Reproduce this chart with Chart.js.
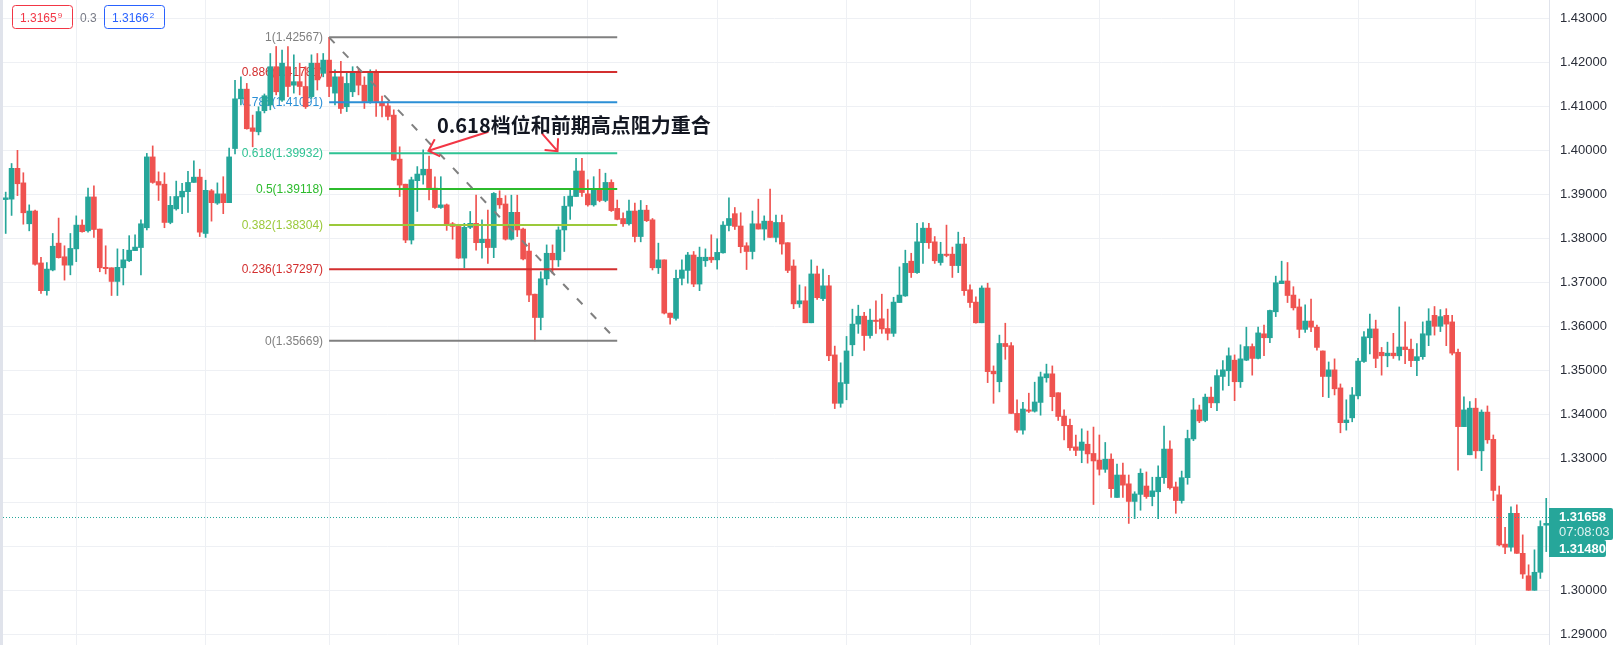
<!doctype html>
<html>
<head>
    <meta charset="UTF-8">
    <title>GBPUSD 日线 斐波那契回撤</title>
    <script src="https://cdn.jsdelivr.net/npm/chart.js@4.4.1/dist/chart.umd.min.js"></script>
    <style>
        html, body { margin: 0; padding: 0; background: #ffffff; }
        #holder { width: 1618px; height: 645px; }
    </style>
</head>
<body>
<div id="holder"><canvas id="chart" width="1618" height="645"></canvas></div>
<script>
    // OHLC, one value per daily candle (oldest first)
    var opens = [
        1.3888,1.3889,1.3959,1.3926,1.3833,1.3862,1.3744,1.3681,1.3728,1.3789,
        1.3758,1.3739,1.3776,1.3830,1.3817,1.3894,1.3821,1.3734,1.3733,1.3702,
        1.3733,1.3749,1.3772,1.3779,1.3824,1.3985,1.3929,1.3923,1.3836,1.3867,
        1.3894,1.3906,1.3927,1.3939,1.3811,1.3908,1.3880,1.3901,1.3881,1.4004,
        1.4117,1.4139,1.4051,1.4042,1.4090,1.4103,1.4190,1.4114,1.4190,1.4148,
        1.4156,1.4145,1.4122,1.4198,1.4175,1.4205,1.4130,1.4167,1.4099,1.4133,
        1.4175,1.4148,1.4111,1.4175,1.4107,1.4101,1.4080,1.3980,1.3923,1.3796,
        1.3931,1.3944,1.3957,1.3914,1.3870,1.3876,1.3833,1.3827,1.3755,1.3825,
        1.3834,1.3790,1.3798,1.3779,1.3891,1.3878,1.3798,1.3859,1.3821,1.3771,
        1.3673,1.3620,1.3708,1.3766,1.3751,1.3819,1.3873,1.3895,1.3953,1.3901,
        1.3876,1.3911,1.3886,1.3927,1.3868,1.3845,1.3833,1.3862,1.3804,1.3864,
        1.3842,1.3733,1.3751,1.3630,1.3618,1.3709,1.3727,1.3762,1.3696,1.3749,
        1.3757,1.3751,1.3767,1.3829,1.3856,1.3828,1.3783,1.3770,1.3833,1.3821,
        1.3839,1.3802,1.3836,1.3790,1.3737,1.3651,1.3658,1.3608,1.3719,1.3663,
        1.3692,1.3535,1.3425,1.3470,1.3558,1.3605,1.3623,1.3579,1.3614,1.3617,
        1.3595,1.3584,1.3654,1.3669,1.3748,1.3722,1.3790,1.3823,1.3792,1.3745,
        1.3764,1.3764,1.3738,1.3787,1.3683,1.3655,1.3608,1.3687,1.3498,1.3474,
        1.3561,1.3556,1.3402,1.3364,1.3410,1.3407,1.3427,1.3483,1.3492,1.3449,
        1.3396,1.3375,1.3326,1.3318,1.3332,1.3311,1.3296,1.3275,1.3298,1.3211,
        1.3262,1.3242,1.3202,1.3218,1.3237,1.3213,1.3224,1.3256,1.3321,1.3235,
        1.3204,1.3256,1.3344,1.3410,1.3386,1.3439,1.3426,1.3486,1.3499,1.3523,
        1.3474,1.3523,1.3554,1.3527,1.3583,1.3574,1.3633,1.3697,1.3703,1.3671,
        1.3644,1.3593,1.3612,1.3598,1.3544,1.3486,1.3501,1.3460,1.3381,1.3392,
        1.3442,1.3520,1.3574,1.3594,1.3541,1.3533,1.3539,1.3533,1.3553,1.3548,
        1.3522,1.3531,1.3580,1.3625,1.3600,1.3625,1.3610,1.3541,1.3372,1.3308,
        1.3414,1.3317,1.3405,1.3343,1.3217,1.3105,1.3098,1.3175,1.3084,1.3033,
        1.3000,1.3041,1.3148
    ];
    var highs = [
        1.3905,1.3970,1.4000,1.3949,1.3876,1.3864,1.3757,1.3745,1.3811,1.3846,
        1.3783,1.3811,1.3851,1.3842,1.3914,1.3919,1.3821,1.3783,1.3733,1.3776,
        1.3775,1.3806,1.3808,1.3842,1.3993,1.4010,1.3951,1.3949,1.3895,1.3930,
        1.3925,1.3952,1.3976,1.3957,1.3932,1.3911,1.3926,1.3940,1.4005,1.4159,
        1.4167,1.4152,1.4080,1.4099,1.4128,1.4220,1.4236,1.4228,1.4236,1.4217,
        1.4198,1.4190,1.4217,1.4220,1.4220,1.4257,1.4183,1.4202,1.4175,1.4190,
        1.4186,1.4167,1.4183,1.4183,1.4123,1.4111,1.4092,1.4008,1.3923,1.3939,
        1.3963,1.4001,1.3987,1.3940,1.3940,1.3878,1.3836,1.3832,1.3834,1.3861,
        1.3898,1.3842,1.3864,1.3904,1.3908,1.3897,1.3898,1.3898,1.3823,1.3789,
        1.3673,1.3724,1.3785,1.3785,1.3826,1.3895,1.3910,1.3982,1.3982,1.3933,
        1.3940,1.3957,1.3948,1.3933,1.3887,1.3858,1.3887,1.3880,1.3886,1.3875,
        1.3845,1.3789,1.3751,1.3630,1.3728,1.3751,1.3768,1.3770,1.3780,1.3776,
        1.3808,1.3799,1.3838,1.3892,1.3870,1.3858,1.3790,1.3862,1.3889,1.3851,
        1.3912,1.3853,1.3853,1.3790,1.3751,1.3694,1.3690,1.3751,1.3737,1.3730,
        1.3716,1.3555,1.3517,1.3577,1.3639,1.3648,1.3632,1.3639,1.3658,1.3673,
        1.3639,1.3666,1.3735,1.3773,1.3766,1.3834,1.3836,1.3834,1.3804,1.3791,
        1.3830,1.3780,1.3814,1.3802,1.3694,1.3667,1.3692,1.3698,1.3510,1.3580,
        1.3607,1.3563,1.3433,1.3427,1.3448,1.3473,1.3496,1.3514,1.3510,1.3449,
        1.3410,1.3389,1.3353,1.3367,1.3362,1.3371,1.3353,1.3336,1.3310,1.3287,
        1.3289,1.3262,1.3224,1.3276,1.3269,1.3257,1.3283,1.3373,1.3340,1.3246,
        1.3271,1.3364,1.3436,1.3421,1.3446,1.3462,1.3501,1.3522,1.3551,1.3535,
        1.3558,1.3598,1.3560,1.3598,1.3603,1.3637,1.3714,1.3748,1.3745,1.3690,
        1.3662,1.3649,1.3662,1.3603,1.3544,1.3519,1.3526,1.3469,1.3433,1.3461,
        1.3527,1.3588,1.3628,1.3614,1.3552,1.3564,1.3584,1.3644,1.3610,1.3571,
        1.3561,1.3610,1.3640,1.3645,1.3638,1.3640,1.3625,1.3548,1.3440,1.3429,
        1.3436,1.3410,1.3419,1.3353,1.3237,1.3143,1.3190,1.3194,1.3126,1.3058,
        1.3092,1.3158,1.3209
    ];
    var lows = [
        1.3811,1.3852,1.3897,1.3832,1.3817,1.3739,1.3675,1.3671,1.3726,1.3755,
        1.3705,1.3717,1.3747,1.3814,1.3814,1.3802,1.3724,1.3719,1.3670,1.3670,
        1.3694,1.3747,1.3772,1.3717,1.3819,1.3925,1.3886,1.3824,1.3833,1.3864,
        1.3856,1.3859,1.3927,1.3804,1.3802,1.3839,1.3877,1.3856,1.3881,1.3992,
        1.4103,1.4048,1.4008,1.4035,1.4085,1.4092,1.4126,1.4111,1.4122,1.4130,
        1.4126,1.4095,1.4118,1.4137,1.4167,1.4122,1.4103,1.4084,1.4088,1.4122,
        1.4126,1.4095,1.4107,1.4077,1.4076,1.4069,1.3977,1.3895,1.3790,1.3787,
        1.3861,1.3923,1.3887,1.3868,1.3868,1.3818,1.3798,1.3754,1.3733,1.3822,
        1.3773,1.3755,1.3743,1.3756,1.3868,1.3796,1.3796,1.3804,1.3751,1.3656,
        1.3567,1.3592,1.3694,1.3720,1.3736,1.3770,1.3843,1.3895,1.3895,1.3873,
        1.3873,1.3883,1.3883,1.3861,1.3842,1.3827,1.3830,1.3792,1.3792,1.3838,
        1.3728,1.3720,1.3628,1.3605,1.3614,1.3694,1.3698,1.3690,1.3681,1.3736,
        1.3745,1.3730,1.3766,1.3817,1.3820,1.3767,1.3729,1.3753,1.3821,1.3796,
        1.3802,1.3792,1.3764,1.3722,1.3640,1.3643,1.3608,1.3608,1.3661,1.3658,
        1.3522,1.3413,1.3416,1.3433,1.3533,1.3584,1.3545,1.3573,1.3584,1.3584,
        1.3569,1.3577,1.3654,1.3668,1.3711,1.3720,1.3743,1.3777,1.3743,1.3739,
        1.3758,1.3711,1.3722,1.3670,1.3643,1.3607,1.3608,1.3472,1.3425,1.3451,
        1.3525,1.3402,1.3359,1.3355,1.3404,1.3405,1.3398,1.3473,1.3408,1.3386,
        1.3342,1.3318,1.3306,1.3290,1.3289,1.3195,1.3262,1.3268,1.3211,1.3211,
        1.3211,1.3152,1.3163,1.3182,1.3209,1.3192,1.3163,1.3243,1.3230,1.3175,
        1.3198,1.3241,1.3340,1.3381,1.3383,1.3415,1.3408,1.3455,1.3465,1.3431,
        1.3461,1.3522,1.3489,1.3526,1.3533,1.3563,1.3622,1.3697,1.3654,1.3637,
        1.3574,1.3586,1.3588,1.3546,1.3440,1.3438,1.3444,1.3358,1.3364,1.3383,
        1.3435,1.3518,1.3537,1.3506,1.3489,1.3508,1.3527,1.3523,1.3515,1.3508,
        1.3488,1.3525,1.3556,1.3580,1.3588,1.3556,1.3535,1.3273,1.3372,1.3308,
        1.3300,1.3272,1.3334,1.3204,1.3101,1.3083,1.3089,1.3084,1.3027,1.3000,
        1.3000,1.3027,1.3088
    ];
    var closes = [
        1.3892,1.3959,1.3924,1.3858,1.3862,1.3741,1.3681,1.3730,1.3782,1.3756,
        1.3739,1.3777,1.3830,1.3815,1.3894,1.3820,1.3733,1.3731,1.3702,1.3734,
        1.3751,1.3773,1.3780,1.3833,1.3985,1.3927,1.3921,1.3836,1.3875,1.3895,
        1.3907,1.3927,1.3939,1.3814,1.3909,1.3881,1.3901,1.3881,1.3985,1.4117,
        1.4139,1.4049,1.4043,1.4088,1.4124,1.4190,1.4133,1.4198,1.4145,1.4156,
        1.4145,1.4099,1.4198,1.4160,1.4205,1.4145,1.4167,1.4095,1.4152,1.4175,
        1.4148,1.4111,1.4175,1.4111,1.4101,1.4077,1.3978,1.3921,1.3796,1.3933,
        1.3946,1.3957,1.3914,1.3870,1.3876,1.3833,1.3827,1.3755,1.3825,1.3834,
        1.3790,1.3798,1.3779,1.3902,1.3876,1.3798,1.3859,1.3819,1.3753,1.3671,
        1.3620,1.3708,1.3766,1.3751,1.3819,1.3873,1.3896,1.3953,1.3904,1.3876,
        1.3911,1.3886,1.3927,1.3863,1.3843,1.3833,1.3862,1.3804,1.3864,1.3840,
        1.3733,1.3751,1.3630,1.3620,1.3709,1.3728,1.3762,1.3696,1.3757,1.3757,
        1.3751,1.3768,1.3830,1.3845,1.3827,1.3781,1.3770,1.3833,1.3821,1.3839,
        1.3802,1.3836,1.3787,1.3727,1.3651,1.3658,1.3608,1.3719,1.3665,1.3692,
        1.3533,1.3425,1.3472,1.3544,1.3605,1.3623,1.3579,1.3614,1.3611,1.3594,
        1.3584,1.3655,1.3671,1.3743,1.3722,1.3792,1.3823,1.3790,1.3749,1.3764,
        1.3761,1.3738,1.3787,1.3681,1.3654,1.3608,1.3687,1.3497,1.3492,1.3561,
        1.3554,1.3402,1.3364,1.3412,1.3407,1.3428,1.3485,1.3492,1.3440,1.3395,
        1.3374,1.3324,1.3318,1.3337,1.3310,1.3294,1.3275,1.3298,1.3231,1.3262,
        1.3239,1.3202,1.3219,1.3266,1.3213,1.3226,1.3257,1.3321,1.3233,1.3204,
        1.3256,1.3345,1.3410,1.3385,1.3439,1.3426,1.3488,1.3501,1.3533,1.3474,
        1.3526,1.3554,1.3527,1.3585,1.3574,1.3636,1.3699,1.3703,1.3670,1.3642,
        1.3593,1.3612,1.3598,1.3552,1.3486,1.3501,1.3458,1.3381,1.3387,1.3444,
        1.3521,1.3576,1.3594,1.3527,1.3533,1.3539,1.3533,1.3553,1.3547,1.3522,
        1.3531,1.3583,1.3612,1.3600,1.3622,1.3605,1.3539,1.3372,1.3410,1.3414,
        1.3317,1.3405,1.3342,1.3227,1.3103,1.3098,1.3175,1.3084,1.3037,1.3000,
        1.3041,1.3145,1.3152
    ];

    // price axis ticks and month separators (candle index)
    var priceTicks = [1.29,1.30,1.31,1.32,1.33,1.34,1.35,1.36,1.37,1.38,1.39,1.40,1.41,1.42,1.43];
    var monthStarts = [12,34,55,77,99,121,143,164,186,209,230,250];

    // fibonacci retracement drawn from candle 55 to candle 104
    var fibLevels = ['1','0.886','0.786','0.618','0.5','0.382','0.236','0'];
    var fibPrices = [1.42567,1.41781,1.41091,1.39932,1.39118,1.38304,1.37297,1.35669];
    var fibColors = ['#808080','#d32f2f','#2b8fd6','#2ec293','#2cbb2c','#9bc93a','#d32f2f','#808080'];
    var fibFrom = 55, fibTo = 104;

    // note + arrows, in (candle index, price)
    var noteText = '0.618档位和前期高点阻力重合';
    var notePos = [73.35, 1.40575];
    var arrowFrom = [[82.1, 1.40423], [91.2, 1.40386]];
    var arrowTo = [[71.9, 1.39991], [93.85, 1.3998]];

    // quote info
    var lastPrice = 1.31658, prevClose = 1.31480, countdown = '07:08:03';
    var bidText = ['1.3165', '9'], askText = ['1.3166', '2'], spreadText = '0.3';

    var UP = '#26a69a', DOWN = '#ef5350';
    var FONT = '"Liberation Sans", Arial, sans-serif';

    var wickData = [], bodyData = [], candleColors = [];
    for (var i = 0; i < opens.length; i++) {
        wickData.push({x: i, y: [lows[i], highs[i]]});
        bodyData.push({x: i, y: [opens[i], closes[i]]});
        candleColors.push(closes[i] >= opens[i] ? UP : DOWN);
    }

    function arrow(ctx, x1, y1, x2, y2) {
        var a = Math.atan2(y1 - y2, x1 - x2), len = 13, spread = 0.76;
        ctx.beginPath();
        ctx.moveTo(x1, y1);
        ctx.lineTo(x2, y2);
        ctx.moveTo(x2 + len * Math.cos(a - spread), y2 + len * Math.sin(a - spread));
        ctx.lineTo(x2, y2);
        ctx.lineTo(x2 + len * Math.cos(a + spread), y2 + len * Math.sin(a + spread));
        ctx.stroke();
    }

    function quoteBox(ctx, x, color, parts) {
        ctx.strokeStyle = color;
        ctx.lineWidth = 1;
        ctx.beginPath();
        ctx.roundRect(x + 0.5, 5.5, 60, 23, 3);
        ctx.stroke();
        ctx.fillStyle = color;
        ctx.textAlign = 'left';
        ctx.textBaseline = 'alphabetic';
        ctx.font = '12px ' + FONT;
        ctx.fillText(parts[0], x + 8, 22);
        var w = ctx.measureText(parts[0]).width;
        ctx.font = '8px ' + FONT;
        ctx.fillText(parts[1], x + 9 + w, 18);
    }

    var drawings = {
        id: 'drawings',
        beforeDraw: function (chart) {
            var ctx = chart.ctx;
            ctx.save();
            ctx.fillStyle = '#ffffff';
            ctx.fillRect(0, 0, chart.width, chart.height);
            ctx.restore();
        },
        beforeDatasetsDraw: function (chart) {
            var ctx = chart.ctx, xs = chart.scales.x, ys = chart.scales.y;
            var x0 = xs.getPixelForValue(fibFrom);
            ctx.save();
            ctx.font = '12px ' + FONT;
            ctx.textAlign = 'right';
            ctx.textBaseline = 'middle';
            for (var k = 0; k < fibLevels.length; k++) {
                ctx.fillStyle = fibColors[k];
                ctx.fillText(fibLevels[k] + '(' + fibPrices[k].toFixed(5) + ')', x0 - 6, ys.getPixelForValue(fibPrices[k]) + 0.5);
            }
            ctx.restore();
        },
        afterDatasetsDraw: function (chart) {
            var ctx = chart.ctx, xs = chart.scales.x, ys = chart.scales.y, area = chart.chartArea;
            var x0 = xs.getPixelForValue(fibFrom), x1 = xs.getPixelForValue(fibTo);
            ctx.save();
            // fib lines
            ctx.lineWidth = 2;
            for (var k = 0; k < fibLevels.length; k++) {
                var py = ys.getPixelForValue(fibPrices[k]);
                ctx.strokeStyle = fibColors[k];
                ctx.beginPath();
                ctx.moveTo(x0, py);
                ctx.lineTo(x1, py);
                ctx.stroke();
            }
            // trend line of the retracement
            ctx.strokeStyle = '#808080';
            ctx.setLineDash([8, 12]);
            ctx.beginPath();
            ctx.moveTo(x0, ys.getPixelForValue(fibPrices[0]));
            ctx.lineTo(x1, ys.getPixelForValue(fibPrices[fibPrices.length - 1]));
            ctx.stroke();
            ctx.setLineDash([]);

            // annotation
            ctx.strokeStyle = '#f23645';
            ctx.lineWidth = 2;
            for (var a = 0; a < arrowFrom.length; a++) {
                arrow(ctx,
                    xs.getPixelForValue(arrowFrom[a][0]), ys.getPixelForValue(arrowFrom[a][1]),
                    xs.getPixelForValue(arrowTo[a][0]), ys.getPixelForValue(arrowTo[a][1]));
            }
            ctx.fillStyle = '#131722';
            ctx.font = 'bold 20px "Noto Sans CJK SC", sans-serif';
            ctx.textAlign = 'left';
            ctx.textBaseline = 'middle';
            ctx.fillText(noteText, xs.getPixelForValue(notePos[0]), ys.getPixelForValue(notePos[1]));

            // last price dotted line
            var ly = Math.round(ys.getPixelForValue(lastPrice)) + 0.5;
            ctx.strokeStyle = UP;
            ctx.lineWidth = 1;
            ctx.setLineDash([1, 2]);
            ctx.beginPath();
            ctx.moveTo(area.left, ly);
            ctx.lineTo(area.right, ly);
            ctx.stroke();
            ctx.restore();
        },
        afterDraw: function (chart) {
            var ctx = chart.ctx, ys = chart.scales.y, area = chart.chartArea;
            ctx.save();
            // left toolbar edge
            ctx.fillStyle = '#e0e3eb';
            ctx.fillRect(0, 0, 3, chart.height);

            // price tags on the axis
            var ly = Math.round(ys.getPixelForValue(lastPrice));
            var left = area.right;
            ctx.fillStyle = UP;
            ctx.beginPath();
            ctx.roundRect(left, ly - 9, 64, 32, [0, 2, 2, 0]);
            ctx.fill();
            ctx.beginPath();
            ctx.roundRect(left, ly + 23, 57, 17, [0, 2, 2, 0]);
            ctx.fill();
            ctx.textAlign = 'left';
            ctx.textBaseline = 'middle';
            ctx.fillStyle = '#ffffff';
            ctx.font = 'bold 13px ' + FONT;
            ctx.fillText(lastPrice.toFixed(5), left + 10, ly + 0.5);
            ctx.fillText(prevClose.toFixed(5), left + 10, ly + 32);
            ctx.fillStyle = 'rgba(255,255,255,0.85)';
            ctx.font = '13px ' + FONT;
            ctx.fillText(countdown, left + 10, ly + 15);

            // bid / ask boxes
            quoteBox(ctx, 12, '#f23645', bidText);
            ctx.fillStyle = '#787b86';
            ctx.font = '12px ' + FONT;
            ctx.textBaseline = 'alphabetic';
            ctx.fillText(spreadText, 80, 22);
            quoteBox(ctx, 104, '#2962ff', askText);
            ctx.restore();
        }
    };

    var config = {
        type: 'bar',
        data: {
            datasets: [
                {
                    label: 'wick',
                    data: wickData,
                    backgroundColor: candleColors,
                    barThickness: 1,
                    grouped: false,
                    minBarLength: 1,
                    borderWidth: 0
                },
                {
                    label: 'body',
                    data: bodyData,
                    backgroundColor: candleColors,
                    barThickness: 5,
                    grouped: false,
                    minBarLength: 1,
                    borderWidth: 0
                }
            ]
        },
        options: {
            responsive: false,
            animation: false,
            devicePixelRatio: 1,
            layout: { padding: 0, autoPadding: false },
            plugins: {
                legend: { display: false },
                tooltip: { enabled: false }
            },
            scales: {
                x: {
                    type: 'linear',
                    min: -0.97,
                    max: 262.47,
                    offset: false,
                    afterBuildTicks: function (scale) {
                        scale.ticks = monthStarts.map(function (v) { return {value: v}; });
                    },
                    afterFit: function (scale) {
                        scale.height = 0;
                        scale.paddingLeft = 0;
                        scale.paddingRight = 0;
                    },
                    ticks: { display: false },
                    // bar charts default to grid lines between ticks; put them on the ticks
                    grid: { color: '#eef0f4', drawTicks: false, offset: false },
                    border: { display: false }
                },
                y: {
                    type: 'linear',
                    position: 'right',
                    min: 1.28757,
                    max: 1.43416,
                    afterBuildTicks: function (scale) {
                        scale.ticks = priceTicks.map(function (v) { return {value: v}; });
                    },
                    afterFit: function (scale) {
                        // full-height plot: the axis labels sit inside it
                        scale.width = 69;
                        scale.paddingTop = 0;
                        scale.paddingBottom = 0;
                    },
                    ticks: {
                        padding: 11,
                        color: '#2a2e39',
                        font: { size: 13, family: FONT },
                        callback: function (v) {
                            if (Math.abs(v - prevClose) < 0.006) return '';
                            return Number(v).toFixed(5);
                        }
                    },
                    grid: { color: '#eef0f4', drawTicks: false },
                    border: { display: true, color: '#e0e3eb' }
                }
            }
        },
        plugins: [drawings]
    };

    var ctx = document.getElementById('chart').getContext('2d');
    window.priceChart = new Chart(ctx, config);
</script>
</body>
</html>
